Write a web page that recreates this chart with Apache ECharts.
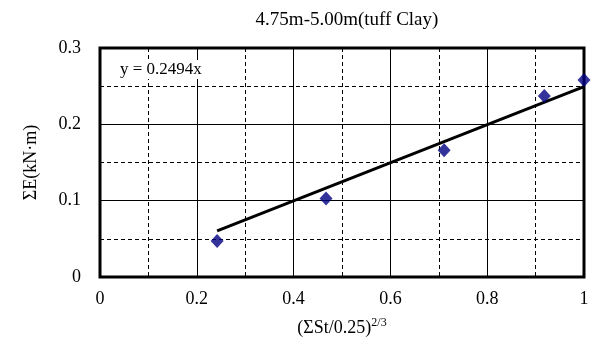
<!DOCTYPE html>
<html>
<head>
<meta charset="utf-8">
<script src="https://cdn.jsdelivr.net/npm/echarts@6/dist/echarts.min.js"></script>
<style>
html, body { margin: 0; padding: 0; background: #fff; }
#chart { width: 600px; height: 348px; }
</style>
</head>
<body>
<div id="chart"></div>
<script>
// Measured points: x = (ΣSt/0.25)^(2/3), y = ΣE (kN·m)
const xValues = [0.242, 0.467, 0.711, 0.918, 1.0];
const yValues = [0.047, 0.103, 0.166, 0.237, 0.258];
// Linear fit through origin
const slope = 0.2494;
const titleText = '4.75m-5.00m(tuff Clay)';
const xTicks = [0, 0.2, 0.4, 0.6, 0.8, 1];
const yTicks = [0, 0.1, 0.2, 0.3];

const FONT = '"Liberation Serif", "Times New Roman", serif';

const points = xValues.map((x, i) => [x, yValues[i]]);
const xLo = Math.min.apply(null, xValues);
const xHi = Math.max.apply(null, xValues);
const fitLine = [[xLo, slope * xLo], [xHi, slope * xHi]];

const chart = echarts.init(document.getElementById('chart'), null, { renderer: 'canvas' });

const gridLeft = 100, gridTop = 48, gridRight = 16, gridBottom = 71;

chart.setOption({
  animation: false,
  backgroundColor: '#fff',
  title: {
    text: titleText,
    left: gridLeft + (600 - gridLeft - gridRight) / 2,
    textAlign: 'center',
    top: 6,
    textStyle: { fontFamily: FONT, fontSize: 19, fontWeight: 'normal', color: '#000' }
  },
  grid: {
    left: gridLeft, top: gridTop, right: gridRight, bottom: gridBottom,
    show: true, borderColor: '#000', borderWidth: 3, backgroundColor: 'transparent'
  },
  xAxis: {
    type: 'value',
    min: xTicks[0], max: xTicks[xTicks.length - 1], interval: 0.2,
    name: '{a|(ΣSt/0.25)}{s|2/3}',
    nameLocation: 'middle',
    nameGap: 40,
    nameTextStyle: {
      rich: {
        a: { fontFamily: FONT, fontSize: 18, color: '#000', verticalAlign: 'bottom', lineHeight: 20 },
        s: { fontFamily: FONT, fontSize: 12, color: '#000', verticalAlign: 'top', lineHeight: 20, padding: [0, 0, 8, 0] }
      }
    },
    axisLine: { show: false },
    axisTick: { show: false },
    axisLabel: {
      margin: 13, fontFamily: FONT, fontSize: 18, color: '#000',
      formatter: v => String(+v.toFixed(1))
    },
    splitLine: { show: true, lineStyle: { color: '#000', width: 1, type: 'solid' } },
    minorTick: { show: false, splitNumber: 2 },
    minorSplitLine: { show: true, lineStyle: { color: '#000', width: 1, type: [4, 3] } }
  },
  yAxis: {
    type: 'value',
    min: yTicks[0], max: yTicks[yTicks.length - 1], interval: 0.1,
    name: 'ΣE(kN·m)',
    nameLocation: 'middle',
    nameGap: 60,
    nameTextStyle: { fontFamily: FONT, fontSize: 18, color: '#000' },
    axisLine: { show: false },
    axisTick: { show: false },
    axisLabel: {
      margin: 19, fontFamily: FONT, fontSize: 18, color: '#000',
      formatter: v => String(+v.toFixed(1))
    },
    splitLine: { show: true, lineStyle: { color: '#000', width: 1, type: 'solid' } },
    minorTick: { show: false, splitNumber: 2 },
    minorSplitLine: { show: true, lineStyle: { color: '#000', width: 1, type: [4, 3] } }
  },
  graphic: [{
    type: 'text',
    left: 118,
    top: 60,
    z: 10,
    style: {
      text: 'y = 0.2494x',
      fontFamily: FONT,
      fontSize: 17,
      fill: '#000',
      backgroundColor: '#fff',
      padding: [1, 2]
    }
  }],
  series: [
    {
      type: 'line',
      data: fitLine,
      symbol: 'none',
      lineStyle: { color: '#000', width: 3 },
      z: 3
    },
    {
      type: 'scatter',
      data: points,
      symbol: 'diamond',
      symbolSize: [13, 14],
      itemStyle: { color: '#000080' },
      z: 4
    }
  ]
});
</script>
</body>
</html>
